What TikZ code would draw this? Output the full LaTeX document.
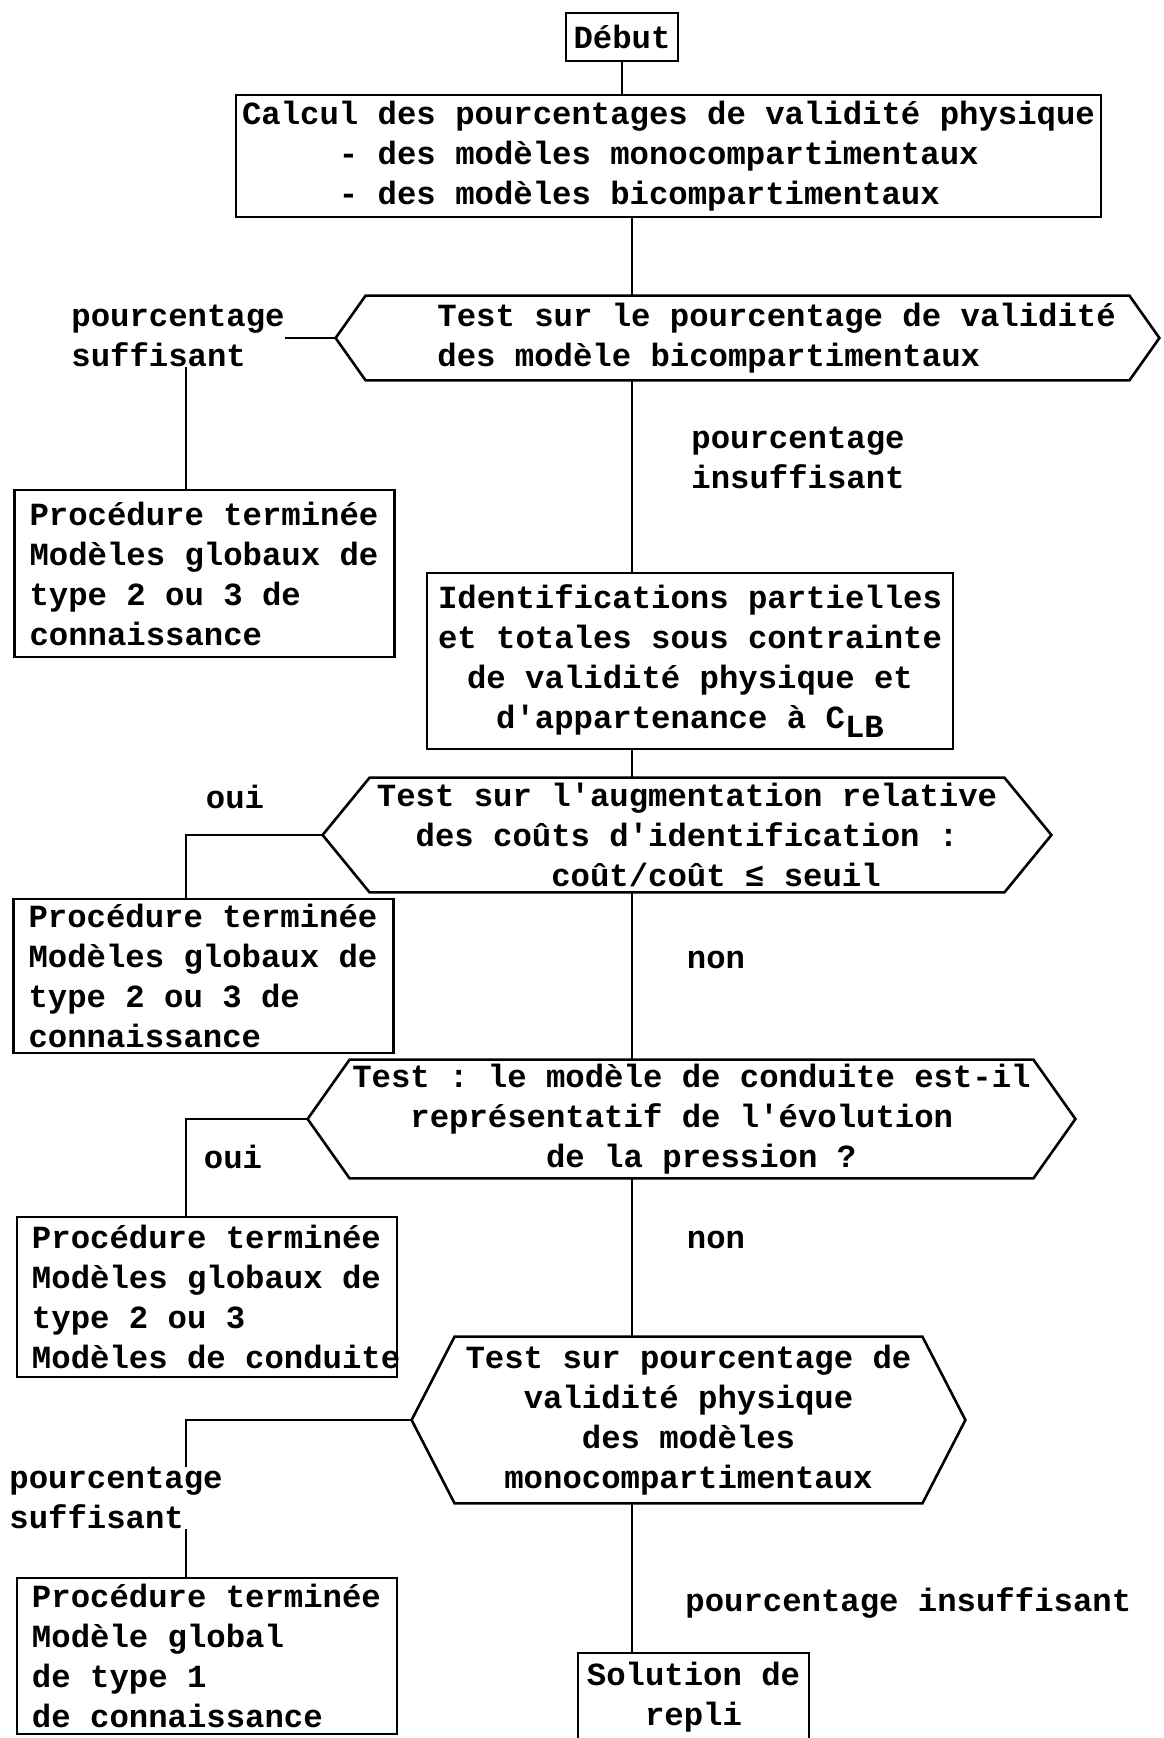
\documentclass[tikz,border=0pt]{standalone}
\usepackage{fontspec}
\setmonofont{Liberation Mono}
\usetikzlibrary{positioning}

% leading blanks, counted in characters of the typewriter font
\newcommand{\esp}[1]{\hspace*{#1\dimexpr0.6em\relax}}
% pointed outline round a test node
\newcommand{\hexa}[2]{%
  \coordinate (#1-g) at ([xshift=-#2]#1.west);
  \coordinate (#1-d) at ([xshift=#2]#1.east);
  \draw[line width=1.3pt] (#1.north west) -- (#1.north east) -- (#1-d)
    -- (#1.south east) -- (#1.south west) -- (#1-g) -- cycle;}

\begin{document}
\begin{tikzpicture}[x=1pt,y=-1pt,
	font=\ttfamily\bfseries\fontsize{16.15}{20}\selectfont,
	bloc/.style={draw, line width=1.3pt, inner sep=0pt},
	fin/.style={bloc, align=flush left, text width=175pt, inner xsep=7.5pt, minimum height=#1},
	essai/.style={inner sep=0pt, align=left},
	etiq/.style={inner sep=0pt, align=left},
	lien/.style={line width=1pt}]
	\useasboundingbox (0,0) rectangle (581.5,869);
	\coordinate (axe) at (316,0);
	\coordinate (gauche) at (93,0);
	
	\node[bloc, minimum width=56pt, minimum height=24pt] (debut) at (311,18.5) {Début};
	\node[bloc, align=left, minimum width=432.5pt, minimum height=61pt] (calcul) at (334.25,78)
	{Calcul des pourcentages de validité physique\\\esp{5}- des modèles monocompartimentaux\\\esp{5}- des modèles bicompartimentaux};
	
	\node[essai, minimum width=381.5pt, minimum height=42pt] (t1) at (373.75,169)
	{\esp{3}Test sur le pourcentage de validité\\\esp{3}des modèle bicompartimentaux};
	\hexa{t1}{15pt}
	\node[etiq, anchor=west] (suff1) at (35.5,168) {pourcentage\\suffisant};
	\node[fin=83.5pt] (fin1) at (102.25,286.75) {Procédure terminée\\Modèles globaux de\\type 2 ou 3 de\\connaissance};
	\node[etiq, anchor=west] (insuff1) at (345.5,229) {pourcentage\\insuffisant};
	
	\node[bloc, align=center, minimum width=263pt, minimum height=88pt] (ident) at (345,330.5)
	{Identifications partielles\\et totales sous contrainte\\de validité physique et\\d'appartenance à C\raisebox{-.5ex}{LB}};
	
	\node[essai, minimum width=317pt, minimum height=57pt] (t2) at (343.5,417.5)
	{Test sur l'augmentation relative\\\esp{2}des coûts d'identification :\\\esp{9}coût/coût ≤ seuil};
	\hexa{t2}{23.5pt}
	\node[etiq] (oui1) at (117.5,398.5) {oui};
	\node[fin=77pt] (fin2) at (101.75,488) {Procédure terminée\\Modèles globaux de\\type 2 ou 3 de\\connaissance};
	\node[etiq] (non1) at (358,480) {non};
	
	\node[essai, minimum width=341.5pt, minimum height=59pt] (t3) at (345.75,559.5)
	{Test : le modèle de conduite est-il\\\esp{3}représentatif de l'évolution\\\esp{10}de la pression ?};
	\hexa{t3}{21pt}
	\node[etiq] (oui2) at (116.5,578.5) {oui};
	\node[fin=80pt] (fin3) at (103.5,648.5) {Procédure terminée\\Modèles globaux de\\type 2 ou 3\\Modèles~de~conduite};
	\node[etiq] (non2) at (358,620) {non};
	
	\node[essai, align=center, minimum width=233.5pt, minimum height=83pt] (t4) at (344.25,710)
	{Test sur pourcentage de\\validité physique\\des modèles\\monocompartimentaux};
	\hexa{t4}{21.5pt}
	\node[etiq, anchor=west] (suff2) at (4.5,749) {pourcentage\\suffisant};
	\node[fin=78pt] (fin4) at (103.5,828) {Procédure terminée\\Modèle global\\de type 1\\de connaissance};
	\node[etiq, anchor=west] (insuff2) at (342.5,801.5) {pourcentage insuffisant};
	\node[bloc, align=center, minimum width=115.5pt, minimum height=44.5pt] (sol) at (346.75,848.75) {Solution de\\repli};
	
	% main line
	\draw[lien] (debut.south) -- (debut.south |- calcul.north);
	\foreach \a/\b in {calcul/t1, t1/ident, ident/t2, t2/t3, t3/t4, t4/sol}
	\draw[lien] (\a.south -| axe) -- (\b.north -| axe);
	
	% side exits
	\draw[lien] (t1-g) -- (t1-g -| suff1.east);
	\draw[lien] (suff1.south -| gauche) -- (fin1.north -| gauche);
	\draw[lien] (t2-g) -| (fin2.north -| gauche);
	\draw[lien] (t3-g) -| (fin3.north -| gauche);
	\draw[lien] (t4-g) -| (suff2.north -| gauche);
	\draw[lien] (suff2.south -| gauche) -- (fin4.north -| gauche);
\end{tikzpicture}
\end{document}
